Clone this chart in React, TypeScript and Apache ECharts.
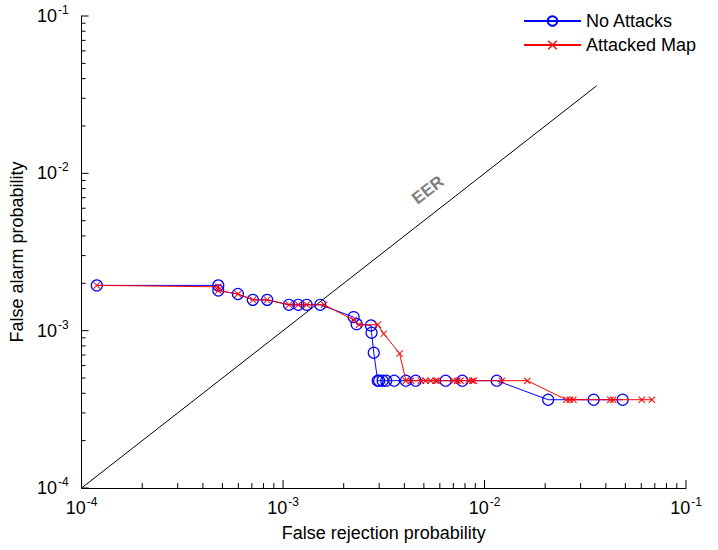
import React, { useEffect, useRef } from "react";
import * as echarts from "echarts";

// False rejection probability (x) and false alarm probability (y)
const noAttackX = [1.19e-4, 4.77e-4, 4.77e-4, 5.97e-4, 7.08e-4, 8.34e-4, 1.07e-3, 1.19e-3, 1.31e-3, 1.53e-3, 2.24e-3, 2.32e-3, 2.73e-3, 2.75e-3, 2.82e-3, 2.95e-3, 3.0e-3, 3.12e-3, 3.25e-3, 3.56e-3, 4.07e-3, 4.55e-3, 6.41e-3, 7.76e-3, 1.15e-2, 2.07e-2, 3.48e-2, 4.85e-2];
const noAttackY = [1.94e-3, 1.94e-3, 1.8e-3, 1.71e-3, 1.57e-3, 1.57e-3, 1.46e-3, 1.46e-3, 1.46e-3, 1.46e-3, 1.22e-3, 1.1e-3, 1.08e-3, 9.7e-4, 7.24e-4, 4.81e-4, 4.81e-4, 4.81e-4, 4.81e-4, 4.81e-4, 4.81e-4, 4.81e-4, 4.81e-4, 4.81e-4, 4.81e-4, 3.64e-4, 3.64e-4, 3.64e-4];

const attackedX = [1.19e-4, 4.77e-4, 4.77e-4, 5.97e-4, 7.08e-4, 8.34e-4, 1.07e-3, 1.19e-3, 1.31e-3, 1.6e-3, 2.24e-3, 2.38e-3, 2.95e-3, 3.16e-3, 3.79e-3, 4.07e-3, 4.31e-3, 4.83e-3, 5.1e-3, 5.4e-3, 5.72e-3, 5.83e-3, 7.03e-3, 7.33e-3, 7.6e-3, 8.36e-3, 8.69e-3, 8.85e-3, 1.22e-2, 1.63e-2, 2.55e-2, 2.65e-2, 2.76e-2, 4.21e-2, 4.35e-2, 6.04e-2, 6.77e-2];
const attackedY = [1.94e-3, 1.9e-3, 1.8e-3, 1.71e-3, 1.57e-3, 1.57e-3, 1.46e-3, 1.46e-3, 1.46e-3, 1.46e-3, 1.17e-3, 1.09e-3, 1.09e-3, 9.57e-4, 7.15e-4, 4.81e-4, 4.81e-4, 4.81e-4, 4.81e-4, 4.81e-4, 4.81e-4, 4.81e-4, 4.81e-4, 4.81e-4, 4.81e-4, 4.81e-4, 4.81e-4, 4.81e-4, 4.81e-4, 4.81e-4, 3.64e-4, 3.64e-4, 3.64e-4, 3.64e-4, 3.64e-4, 3.64e-4, 3.64e-4];

const eerX = [1e-4, 0.036];
const eerY = [1e-4, 0.036];

const decades = [-4, -3, -2];
const majorTicks = [1e-4, 1e-3, 1e-2, 1e-1];
const minorMultipliers = [2, 3, 4, 5, 6, 7, 8, 9];

const FONT = "'Liberation Sans', Arial, sans-serif";

export default function App() {
  const ref = useRef<HTMLDivElement>(null);

  useEffect(() => {
    if (!ref.current) return;
    const chart = echarts.init(ref.current, undefined, { renderer: "svg" });

    // [value, isMajor]
    const tickVals: number[][] = [];
    majorTicks.forEach((v) => tickVals.push([v, 1]));
    decades.forEach((d) => minorMultipliers.forEach((m) => tickVals.push([m * Math.pow(10, d), 0])));

    const labelFmt = (v: number) => {
      const e = Math.round(Math.log10(v));
      return `{b|10}{s|${e}}`;
    };
    const rich = {
      b: { fontSize: 18, fontFamily: FONT, color: "#000" },
      s: { fontSize: 12, fontFamily: FONT, color: "#000", verticalAlign: "bottom", padding: [0, 0, 12, 1] },
    };

    const option: any = {
      animation: false,
      textStyle: { fontFamily: FONT },
      grid: { left: 80, right: 32, top: 16, bottom: 62, containLabel: false },
      legend: {
        orient: "vertical",
        left: 523,
        top: 12,
        padding: 0,
        itemWidth: 57,
        itemHeight: 12,
        itemGap: 6,
        data: ["No Attacks", "Attacked Map"],
        textStyle: { fontSize: 18, lineHeight: 18, fontFamily: FONT, color: "#000" },
      },
      xAxis: {
        type: "log",
        logBase: 10,
        min: 1e-4,
        max: 1e-1,
        interval: 1,
        name: "False rejection probability",
        nameLocation: "middle",
        nameGap: 36,
        nameTextStyle: { fontSize: 18, fontFamily: FONT, color: "#000" },
        axisLine: { show: true, onZero: false, lineStyle: { color: "#000", width: 1 } },
        axisTick: { show: false },
        axisLabel: { formatter: labelFmt, rich, margin: 8 },
        splitLine: { show: false },
      },
      yAxis: {
        type: "log",
        logBase: 10,
        min: 1e-4,
        max: 1e-1,
        interval: 1,
        name: "False alarm probability",
        nameLocation: "middle",
        nameGap: 47,
        nameTextStyle: { fontSize: 18, fontFamily: FONT, color: "#000" },
        axisLine: { show: true, onZero: false, lineStyle: { color: "#000", width: 1 } },
        axisTick: { show: false },
        axisLabel: { formatter: labelFmt, rich, margin: 13 },
        splitLine: { show: false },
      },
      graphic: [
        {
          type: "text",
          x: 428,
          y: 190,
          rotation: (38 * Math.PI) / 180,
          style: {
            text: "EER",
            fontSize: 17,
            fontWeight: "bold",
            fontFamily: FONT,
            fill: "#7f7f7f",
            align: "center",
            verticalAlign: "middle",
          },
        },
      ],
      series: [
        {
          name: "EER",
          type: "line",
          data: eerX.map((x, i) => [x, eerY[i]]),
          showSymbol: false,
          symbol: "none",
          lineStyle: { color: "#000", width: 1 },
          silent: true,
          z: 1,
        },
        {
          name: "No Attacks",
          type: "line",
          data: noAttackX.map((x, i) => [x, noAttackY[i]]),
          symbol: "circle",
          symbolSize: 11,
          showAllSymbol: true,
          itemStyle: { color: "rgba(255,255,255,0)", borderColor: "#0000ff", borderWidth: 1.2 },
          lineStyle: { color: "#0000ff", width: 1 },
          z: 2,
        },
        {
          name: "Attacked Map",
          type: "line",
          data: attackedX.map((x, i) => [x, attackedY[i]]),
          symbol: "path://M0,1L1,0L5,4L9,0L10,1L6,5L10,9L9,10L5,6L1,10L0,9L4,5Z",
          symbolSize: 7,
          showAllSymbol: true,
          itemStyle: { color: "#ff0000" },
          lineStyle: { color: "#ff0000", width: 1 },
          z: 3,
        },
        {
          type: "custom",
          silent: true,
          clip: false,
          data: tickVals.map((t) => [t[0], 1e-4, t[1]]),
          renderItem: (params: any, api: any) => {
            const p = api.coord([api.value(0), api.value(1)]);
            const len = api.value(2) ? 8 : 5;
            return {
              type: "line",
              shape: { x1: p[0], y1: p[1], x2: p[0], y2: p[1] - len },
              style: { stroke: "#000", lineWidth: 1 },
            };
          },
          z: 0,
        },
        {
          type: "custom",
          silent: true,
          clip: false,
          data: tickVals.map((t) => [1e-4, t[0], t[1]]),
          renderItem: (params: any, api: any) => {
            const p = api.coord([api.value(0), api.value(1)]);
            const len = api.value(2) ? 7 : 4;
            return {
              type: "line",
              shape: { x1: p[0], y1: p[1], x2: p[0] + len, y2: p[1] },
              style: { stroke: "#000", lineWidth: 1 },
            };
          },
          z: 0,
        },
      ],
    };

    chart.setOption(option);
    return () => chart.dispose();
  }, []);

  return (
    <div
      ref={ref}
      style={{ position: "absolute", left: 0, top: 0, width: 718, height: 550, background: "#fff" }}
    />
  );
}
